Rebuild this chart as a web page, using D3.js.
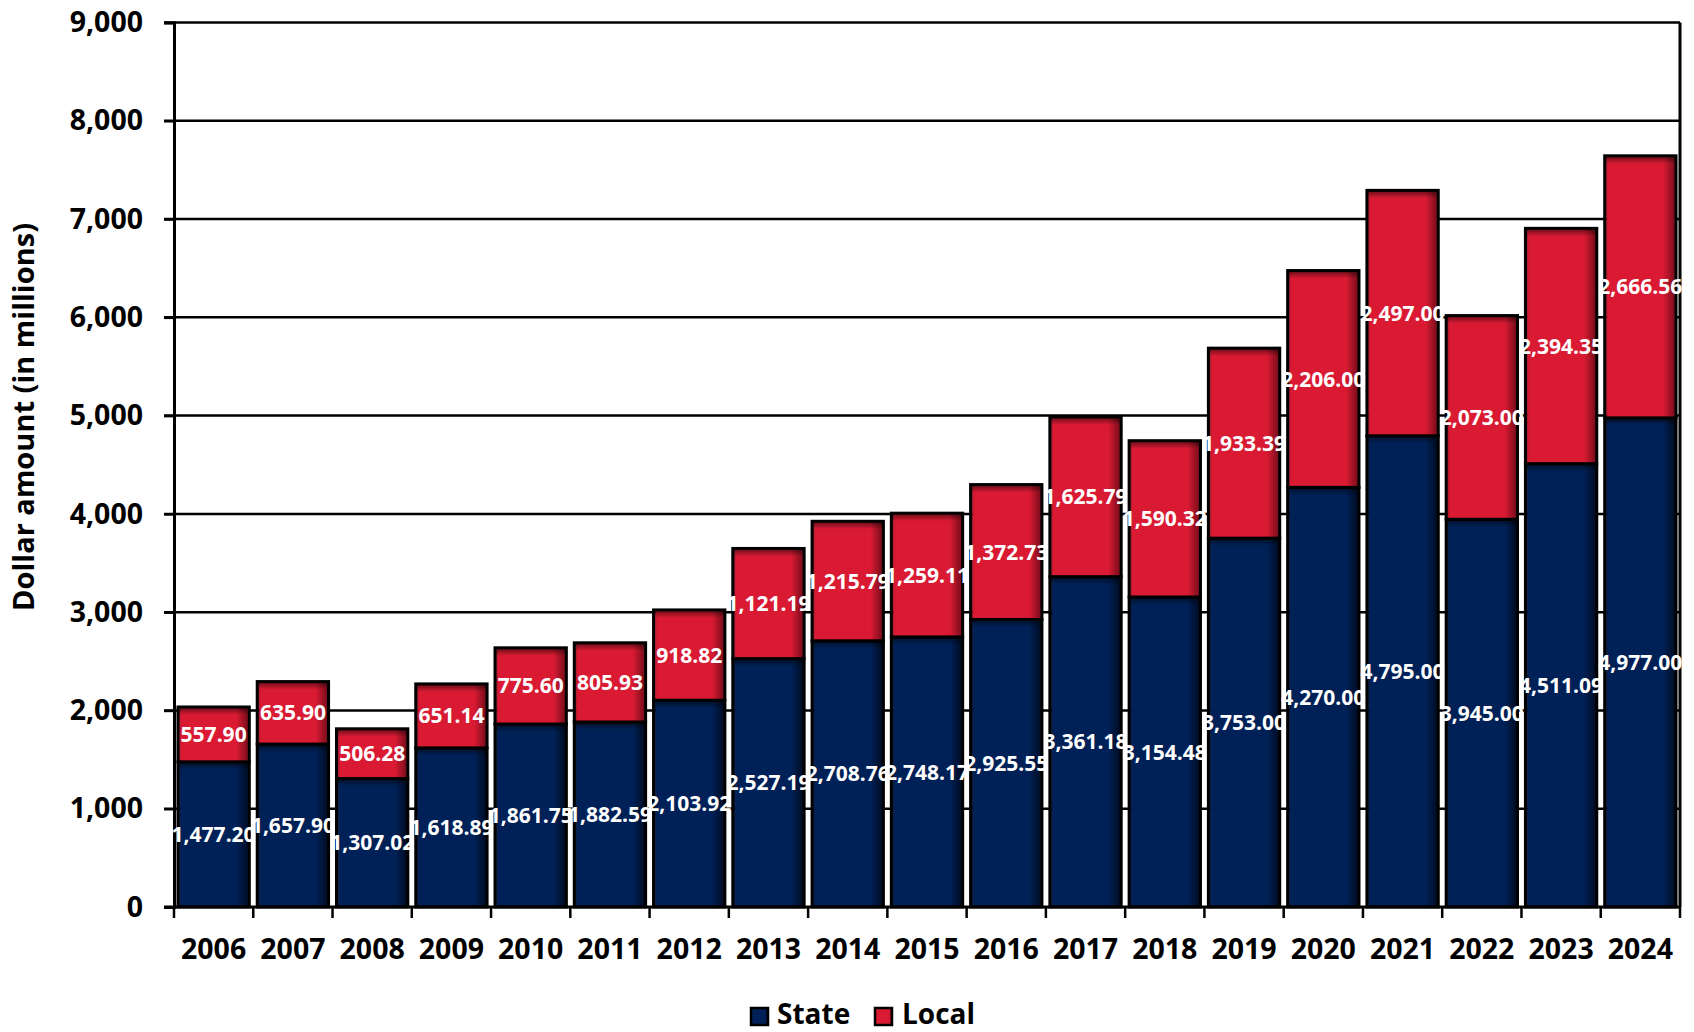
<!DOCTYPE html>
<html><head><meta charset="utf-8">
<script src="https://cdn.jsdelivr.net/npm/d3@7"></script>
<style>body{margin:0;background:#fff}svg{display:block}text{font-family:"Open Sans",sans-serif;font-weight:700}</style>
</head><body>
<svg id="c" width="1694" height="1032"></svg>
<script>
const years = ["2006","2007","2008","2009","2010","2011","2012","2013","2014","2015","2016","2017","2018","2019","2020","2021","2022","2023","2024"];
const stateVals = [1477.20,1657.90,1307.02,1618.89,1861.75,1882.59,2103.92,2527.19,2708.76,2748.17,2925.55,3361.18,3154.48,3753.00,4270.00,4795.00,3945.00,4511.09,4977.00];
const localVals = [557.90,635.90,506.28,651.14,775.60,805.93,918.82,1121.19,1215.79,1259.11,1372.73,1625.79,1590.32,1933.39,2206.00,2497.00,2073.00,2394.35,2666.56];
const yTicks = [0,1000,2000,3000,4000,5000,6000,7000,8000,9000];
const seriesNames = ["State","Local"];

const svg = d3.select("#c");
const L=174, R=1680, T=22.5, B=907;
const x = d3.scaleBand().domain(years).range([L,R]).paddingInner(0.1).paddingOuter(0.05);
const y = d3.scaleLinear().domain([0,9000]).range([B,T]);
const fmt = d3.format(",.2f");

const colors = {State:"#002157", Local:"#da1a33"};
const darks = {State:"#000a1f", Local:"#6e0c18"};
const defs = svg.append("defs");
seriesNames.forEach(s=>{
  const g = defs.append("linearGradient").attr("id","h"+s).attr("x1","0").attr("x2","1").attr("y1","0").attr("y2","0");
  g.append("stop").attr("offset","0").attr("stop-color",darks[s]).attr("stop-opacity",0.9);
  g.append("stop").attr("offset","0.05").attr("stop-color",colors[s]);
  g.append("stop").attr("offset","0.82").attr("stop-color",colors[s]);
  g.append("stop").attr("offset","1").attr("stop-color",darks[s]);
});
const vg = defs.append("linearGradient").attr("id","vtop").attr("x1","0").attr("x2","0").attr("y1","0").attr("y2","1");
vg.append("stop").attr("offset","0").attr("stop-color","#000").attr("stop-opacity",0.55);
vg.append("stop").attr("offset","1").attr("stop-color","#000").attr("stop-opacity",0);

// gridlines
svg.append("g").selectAll("line").data(yTicks.filter(d=>d>0)).join("line")
  .attr("x1",L-10).attr("x2",R).attr("y1",d=>y(d)).attr("y2",d=>y(d))
  .attr("stroke","#000").attr("stroke-width",2.5);

// y axis
const yAxis = svg.append("g").attr("transform",`translate(${L},0)`)
  .call(d3.axisLeft(y).tickValues(yTicks).tickFormat(d3.format(",")).tickSize(10).tickPadding(21));
yAxis.select(".domain").attr("stroke","#000").attr("stroke-width",3);
yAxis.selectAll(".tick line").attr("stroke","#000").attr("stroke-width",2.5);
yAxis.selectAll(".tick text").attr("font-size",28.5).attr("font-family","Open Sans").attr("font-weight",700).attr("fill","#000");

// right border
svg.append("line").attr("x1",R).attr("x2",R).attr("y1",T).attr("y2",B).attr("stroke","#000").attr("stroke-width",3);

// stacked data
const data = years.map((yr,i)=>({year:yr, State:stateVals[i], Local:localVals[i]}));
const stack = d3.stack().keys(seriesNames)(data);

const barG = svg.append("g");
stack.forEach(layer=>{
  const s = layer.key;
  const g = barG.append("g");
  g.selectAll("rect.bar").data(layer).join("rect").attr("class","bar")
    .attr("x",d=>x(d.data.year)).attr("width",x.bandwidth())
    .attr("y",d=>y(d[1])).attr("height",d=>y(d[0])-y(d[1]))
    .attr("fill",`url(#h${s})`);
  g.selectAll("rect.sh").data(layer).join("rect").attr("class","sh")
    .attr("x",d=>x(d.data.year)).attr("width",x.bandwidth())
    .attr("y",d=>y(d[1])).attr("height",8)
    .attr("fill","url(#vtop)");
  g.selectAll("rect.ol").data(layer).join("rect").attr("class","ol")
    .attr("x",d=>x(d.data.year)).attr("width",x.bandwidth())
    .attr("y",d=>y(d[1])).attr("height",d=>y(d[0])-y(d[1]))
    .attr("fill","none").attr("stroke","#000").attr("stroke-width",3);
});

// x axis baseline & ticks
svg.append("line").attr("x1",L-10).attr("x2",R).attr("y1",B).attr("y2",B).attr("stroke","#000").attr("stroke-width",3);
const bounds = [L].concat(years.map(d=>x(d)+x.bandwidth()+x.step()*x.paddingInner()/2));
bounds[bounds.length-1]=R;
svg.append("g").selectAll("line").data(bounds).join("line")
  .attr("x1",d=>d).attr("x2",d=>d).attr("y1",B).attr("y2",B+11).attr("stroke","#000").attr("stroke-width",2.5);
svg.append("g").selectAll("text").data(years).join("text")
  .attr("x",d=>x(d)+x.bandwidth()/2).attr("y",959).attr("text-anchor","middle")
  .attr("font-size",28.5).attr("fill","#000").text(d=>d);

// value labels
stack.forEach(layer=>{
  svg.append("g").selectAll("text").data(layer).join("text")
    .attr("x",d=>x(d.data.year)+x.bandwidth()/2)
    .attr("y",d=>y((d[0]+d[1])/2)).attr("dy","0.36em")
    .attr("text-anchor","middle").attr("font-size",21).attr("fill","#fff")
    .text(d=>fmt(d[1]-d[0]));
});

// y label
svg.append("text").attr("transform","translate(34,417) rotate(-90)").attr("text-anchor","middle")
  .attr("font-size",29).attr("fill","#000").text("Dollar amount (in millions)");

// legend
const leg = svg.append("g");
const legItems = [{name:"State",sx:751,tx:777},{name:"Local",sx:875,tx:902}];
legItems.forEach(it=>{
  leg.append("rect").attr("x",it.sx).attr("y",1008).attr("width",17).attr("height",17)
    .attr("fill",`url(#h${it.name})`).attr("stroke","#000").attr("stroke-width",2.5);
  leg.append("text").attr("x",it.tx).attr("y",1024).attr("font-size",28).attr("fill","#000").text(it.name);
});
</script>
</body></html>
